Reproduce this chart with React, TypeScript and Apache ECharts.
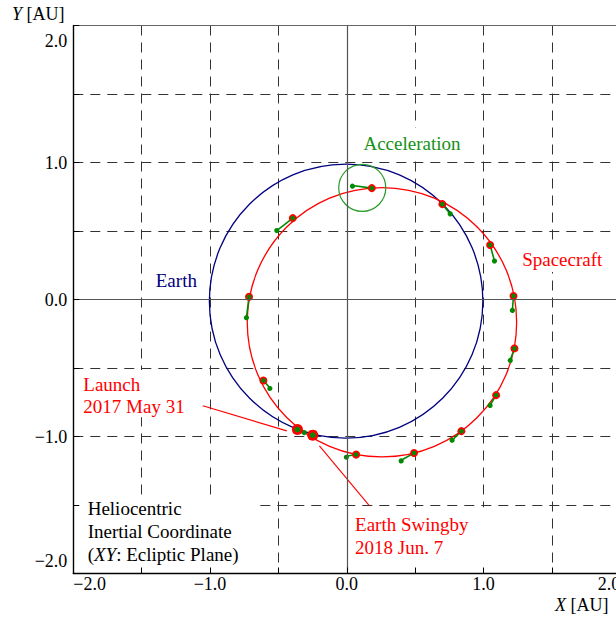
import React, { useEffect, useRef } from 'react';
import * as echarts from 'echarts';

// Axis range and ticks (AU)
const axisRange = [-2, 2];
const tickStep = 0.5;
const tickValues = [-2, -1, 0, 1, 2];
const tickLabels = ['\u22122.0', '\u22121.0', '0.0', '1.0', '2.0'];

// Earth orbit: centre [x, y] and radii [rx, ry], AU
const earthOrbitCenter = [-0.005, -0.012];
const earthOrbitRadius = [1.0, 1.0];

// Spacecraft orbit: centre and semi-axes, AU
const craftOrbitCenter = [0.257, -0.166];
const craftOrbitRadius = [0.985, 0.983];

// Spacecraft positions along the orbit, AU
const craftX = [-0.395, 0.183, 0.699, 1.048, 1.219, 1.226, 1.092, 0.838, 0.492, 0.068, -0.61, -0.715];
const craftY = [0.594, 0.813, 0.696, 0.398, 0.026, -0.357, -0.698, -0.961, -1.121, -1.132, -0.591, 0.02];

// Tip of the acceleration vector drawn from each position, AU
const thrustX = [-0.512, 0.041, 0.756, 1.08, 1.211, 1.195, 1.048, 0.77, 0.397, -0.005, -0.563, -0.734];
const thrustY = [0.503, 0.832, 0.625, 0.281, -0.077, -0.442, -0.773, -1.027, -1.173, -1.144, -0.645, -0.133];

// Launch (2017 May 31) and Earth swingby (2018 Jun. 7), AU
const eventX = [-0.361, -0.249];
const eventY = [-0.949, -0.99];
const launchThrustTip = [-0.312, -0.971];

// Highlighted acceleration sample
const accelCenter = [0.113, 0.815];
const accelRadius = 0.172;

// Leader lines from the event labels to the orbit, [x0, y0, x1, y1] in AU
const launchLeader = [-1.053, -0.776, -0.439, -0.959];
const swingbyLeader = [-0.2, -1.069, 0.163, -1.502];

const FONT = '"Liberation Serif", "Times New Roman", serif';
const RED = '#ff0000';
const GREEN = '#008a00';
const TEXT_GREEN = '#149114';
const NAVY = '#000080';

// Text blocks: anchor is the top-left corner of the (white) label box
const annotations = [
  { text: 'Acceleration', color: TEXT_GREEN, at: [0.083, 1.254], lh: 22, pad: [4.6, 5.6, 1.4, 5.3], box: true },
  { text: 'Spacecraft', color: RED, at: [1.264, 0.398], lh: 22, pad: [3.6, 7.8, 1.4, 2.5], box: true },
  { text: 'Earth', color: NAVY, at: [-1.397, 0.221], lh: 22, pad: [0, 0, 0, 0], box: false },
  { text: 'Launch\n2017 May 31', color: RED, at: [-2.0, -0.515], lh: 22, pad: [3.3, 15, 0, 10], box: true },
  { text: 'Earth Swingby\n2018 Jun. 7', color: RED, at: [0.024, -1.517], lh: 23.3, pad: [5.6, 21.5, 12.7, 5], box: true },
  { text: 'Heliocentric\nInertial Coordinate\n({i|XY}: Ecliptic Plane)', color: '#000', at: [-2.0, -1.436], lh: 22.85, pad: [1.2, 18.5, 6, 14.4], box: true },
];

const fmtX = (v: number) => {
  const i = tickValues.findIndex((t) => Math.abs(t - v) < 1e-9);
  return i >= 0 ? tickLabels[i] : '';
};

// y labels at the frame ends are pulled slightly inside the plot
const fmtY = (v: number) => {
  const i = tickValues.findIndex((t) => Math.abs(t - v) < 1e-9);
  if (i < 0) return '';
  if (i === 0) return '{lo|' + tickLabels[i] + '}';
  if (i === tickValues.length - 1) return '{hi|' + tickLabels[i] + '}';
  return tickLabels[i];
};

const baseAxis = { type: 'value', min: axisRange[0], max: axisRange[1], interval: tickStep };

const gridAxis = {
  ...baseAxis,
  axisLine: { show: false, onZero: false },
  axisTick: { show: false },
  axisLabel: { show: false },
  splitLine: { show: true, lineStyle: { color: '#333', width: 1, type: [10, 7] } },
  z: 0,
};

const labelStyle = { fontFamily: FONT, fontSize: 18, color: '#000' };

const ellipseItem = (stroke: string, lineWidth: number) => (params: any, api: any) => {
  const c = api.coord([api.value(0), api.value(1)]);
  const s = api.size([api.value(2), api.value(3)]);
  return {
    type: 'ellipse',
    shape: { cx: c[0], cy: c[1], rx: s[0], ry: s[1] },
    style: { fill: 'none', stroke, lineWidth },
  };
};

const segmentItem = (stroke: string, lineWidth: number, tipRadius: number) => (params: any, api: any) => {
  const a = api.coord([api.value(0), api.value(1)]);
  const b = api.coord([api.value(2), api.value(3)]);
  const children: any[] = [
    { type: 'line', shape: { x1: a[0], y1: a[1], x2: b[0], y2: b[1] }, style: { stroke, lineWidth } },
  ];
  if (tipRadius > 0) {
    children.push({ type: 'circle', shape: { cx: b[0], cy: b[1], r: tipRadius }, style: { fill: stroke } });
  }
  return { type: 'group', children };
};

const craftPoints = craftX.map((x, i) => [x, craftY[i]]);
const eventPoints = eventX.map((x, i) => [x, eventY[i]]);
const thrustSegments = [
  ...craftX.map((x, i) => [x, craftY[i], thrustX[i], thrustY[i]]),
  [eventX[0], eventY[0], launchThrustTip[0], launchThrustTip[1]],
];

const option: any = {
  animation: false,
  backgroundColor: '#fff',
  grid: { left: 73.3, top: 25.5, width: 547, height: 548, containLabel: false },
  xAxis: [
    { ...gridAxis, position: 'bottom' },
    {
      ...baseAxis,
      position: 'bottom',
      axisLine: { show: true, onZero: false, lineStyle: { color: '#000', width: 1.4 } },
      axisTick: { show: true, inside: true, length: 6, lineStyle: { color: '#000', width: 1 } },
      axisLabel: {
        ...labelStyle,
        formatter: fmtX,
        margin: 1,
        showMinLabel: true,
        showMaxLabel: true,
        alignMinLabel: 'left',
        alignMaxLabel: 'right',
      },
      splitLine: { show: false },
      z: 5,
    },
    {
      ...baseAxis,
      position: 'top',
      axisLine: { show: true, onZero: false, lineStyle: { color: '#666', width: 1 } },
      axisTick: { show: false },
      axisLabel: { show: false },
      splitLine: { show: false },
      z: 5,
    },
  ],
  yAxis: [
    { ...gridAxis, position: 'left' },
    {
      ...baseAxis,
      position: 'left',
      axisLine: { show: true, onZero: false, lineStyle: { color: '#000', width: 1.4 } },
      axisTick: { show: true, inside: true, length: 6, lineStyle: { color: '#000', width: 1 } },
      axisLabel: {
        ...labelStyle,
        formatter: fmtY,
        margin: 6,
        showMinLabel: true,
        showMaxLabel: true,
        verticalAlignMinLabel: 'bottom',
        verticalAlignMaxLabel: 'top',
        rich: {
          lo: { ...labelStyle, padding: [0, 0, 4, 0] },
          hi: { ...labelStyle, padding: [6, 0, 0, 0] },
        },
      },
      splitLine: { show: false },
      z: 5,
    },
  ],
  series: [
    {
      name: 'Earth',
      type: 'custom',
      renderItem: ellipseItem(NAVY, 1.3),
      data: [[earthOrbitCenter[0], earthOrbitCenter[1], earthOrbitRadius[0], earthOrbitRadius[1]]],
      encode: { x: 0, y: 1 },
      silent: true,
      markLine: {
        silent: true,
        symbol: ['none', 'none'],
        label: { show: false },
        lineStyle: { color: '#555', type: 'solid', width: 1.2 },
        data: [{ xAxis: 0 }, { yAxis: 0 }],
      },
    },
    {
      name: 'Spacecraft',
      type: 'custom',
      renderItem: ellipseItem(RED, 1.3),
      data: [[craftOrbitCenter[0], craftOrbitCenter[1], craftOrbitRadius[0], craftOrbitRadius[1]]],
      encode: { x: 0, y: 1 },
      silent: true,
    },
    {
      name: 'Acceleration',
      type: 'custom',
      renderItem: ellipseItem('#2a9a2a', 1.2),
      data: [[accelCenter[0], accelCenter[1], accelRadius, accelRadius]],
      encode: { x: 0, y: 1 },
      silent: true,
    },
    {
      name: 'Leaders',
      type: 'custom',
      renderItem: segmentItem(RED, 1.1, 0),
      data: [launchLeader, swingbyLeader],
      encode: { x: [0, 2], y: [1, 3] },
      silent: true,
    },
    {
      name: 'Thrust',
      type: 'custom',
      renderItem: segmentItem(GREEN, 1.6, 2.6),
      data: thrustSegments,
      encode: { x: [0, 2], y: [1, 3] },
      silent: true,
    },
    {
      type: 'scatter',
      data: craftPoints,
      symbol: 'circle',
      symbolSize: 8,
      itemStyle: { color: RED, opacity: 1 },
      silent: true,
    },
    {
      type: 'scatter',
      data: eventPoints,
      symbol: 'circle',
      symbolSize: 11,
      itemStyle: { color: RED, opacity: 1 },
      silent: true,
    },
    {
      type: 'scatter',
      data: craftPoints,
      symbol: 'circle',
      symbolSize: 4.6,
      itemStyle: { color: GREEN, opacity: 1 },
      silent: true,
    },
    {
      type: 'scatter',
      data: eventPoints,
      symbol: 'circle',
      symbolSize: 5.6,
      itemStyle: { color: GREEN, opacity: 1 },
      silent: true,
    },
    {
      name: 'Labels',
      type: 'custom',
      z: 3,
      silent: true,
      data: annotations.map((a) => a.at),
      encode: { x: 0, y: 1 },
      renderItem: (params: any, api: any) => {
        const a = annotations[params.dataIndex];
        const p = api.coord([api.value(0), api.value(1)]);
        return {
          type: 'text',
          x: p[0],
          y: p[1],
          style: {
            text: a.text,
            fill: a.color,
            fontFamily: FONT,
            fontSize: 19,
            lineHeight: a.lh,
            align: 'left',
            verticalAlign: 'top',
            backgroundColor: a.box ? '#fff' : 'transparent',
            padding: a.pad,
            rich: {
              i: { fontFamily: FONT, fontSize: 19, fontStyle: 'italic', fill: a.color, lineHeight: a.lh },
            },
          },
        };
      },
    },
  ],
  graphic: [
    {
      type: 'text',
      left: 12,
      top: 5,
      style: {
        text: '{i|Y} [AU]',
        fill: '#000',
        fontFamily: FONT,
        fontSize: 18,
        rich: { i: { fontFamily: FONT, fontSize: 18, fontStyle: 'italic', fill: '#000' } },
      },
    },
    {
      type: 'text',
      left: 555,
      top: 596,
      style: {
        text: '{i|X} [AU]',
        fill: '#000',
        fontFamily: FONT,
        fontSize: 18,
        rich: { i: { fontFamily: FONT, fontSize: 18, fontStyle: 'italic', fill: '#000' } },
      },
    },
  ],
};

export default function App() {
  const ref = useRef<HTMLDivElement>(null);
  useEffect(() => {
    if (!ref.current) return;
    const chart = echarts.init(ref.current, null, { renderer: 'svg' });
    chart.setOption(option);
    return () => chart.dispose();
  }, []);
  return (
    <div
      style={{
        position: 'fixed',
        left: 0,
        top: 0,
        width: 616,
        height: 617,
        overflow: 'hidden',
        background: '#fff',
      }}
    >
      <div ref={ref} style={{ width: 640, height: 617 }} />
    </div>
  );
}
